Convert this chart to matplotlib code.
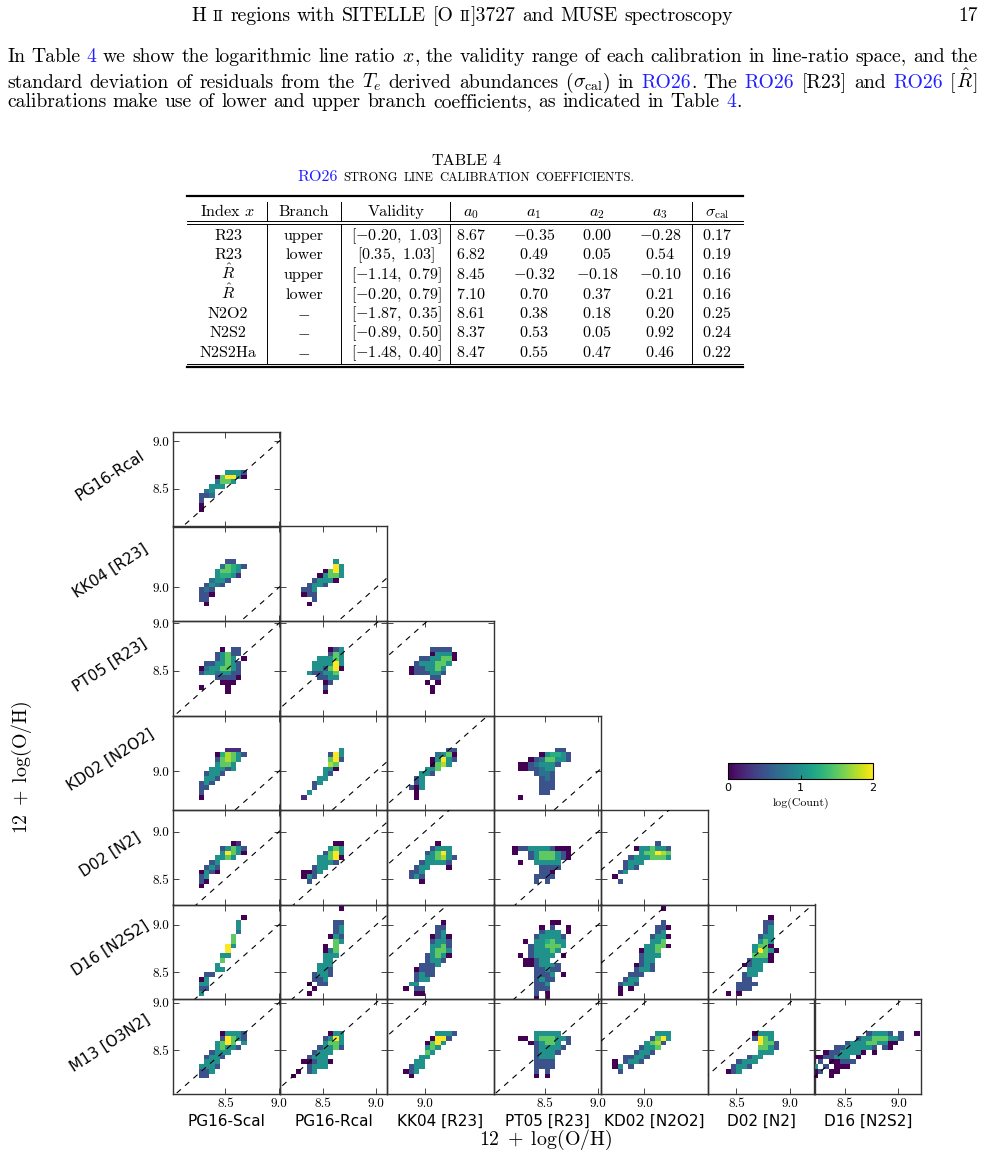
import re
import numpy as np
import matplotlib
matplotlib.use("Agg")
import matplotlib.pyplot as plt
from matplotlib.lines import Line2D
from matplotlib.cm import ScalarMappable
from matplotlib.colors import Normalize

plt.rcParams["mathtext.fontset"] = "cm"

# ---- page text ----
HEADER = "H <II> regions with SITELLE [O <II>]3727 and MUSE spectroscopy"
PAGE_NO = "17"
PARA = [
    "In Table {4} we show the logarithmic line ratio $x$, the validity range of each calibration in line-ratio space, and the",
    r"standard deviation of residuals from the $T_e$ derived abundances ($\sigma_{\mathrm{cal}}$) in {RO26}. The {RO26} [R23] and {RO26} [$\hat{R}$]",
    "calibrations make use of lower and upper branch coefficients, as indicated in Table {4}.",
]

# ---- table 4 ----
TAB_TITLE = "TABLE 4"
TAB_SUB = "{RO26} <strong> <line> <calibration> <coefficients.>"
TAB_HEAD = ["Index $x$", "Branch", "Validity", "$a_0$", "$a_1$", "$a_2$", "$a_3$", r"$\sigma_{\mathrm{cal}}$"]
TAB_INDEX = ["R23", "R23", r"$\hat{R}$", r"$\hat{R}$", "N2O2", "N2S2", "N2S2Ha"]
TAB_BRANCH = ["upper", "lower", "upper", "lower", "-", "-", "-"]
TAB_VALID = [(-0.20, 1.03), (0.35, 1.03), (-1.14, 0.79), (-0.20, 0.79), (-1.87, 0.35), (-0.89, 0.50), (-1.48, 0.40)]
TAB_A0 = [8.67, 6.82, 8.45, 7.10, 8.61, 8.37, 8.47]
TAB_A1 = [-0.35, 0.49, -0.32, 0.70, 0.38, 0.53, 0.55]
TAB_A2 = [0.00, 0.05, -0.18, 0.37, 0.18, 0.05, 0.47]
TAB_A3 = [-0.28, 0.54, -0.10, 0.21, 0.20, 0.92, 0.46]
TAB_SIG = [0.17, 0.19, 0.16, 0.16, 0.25, 0.24, 0.22]

# ---- corner plot ----
CALIBS = ["PG16-Scal", "PG16-Rcal", "KK04 [R23]", "PT05 [R23]", "KD02 [N2O2]", "D02 [N2]", "D16 [N2S2]", "M13 [O3N2]"]
AX_LIMS = [(8.01, 9.01), (8.10, 9.10), (8.645, 9.645), (8.025, 9.025), (8.59, 9.59), (8.23, 9.23), (8.215, 9.215), (8.04, 9.04)]
BIN = 0.05
# 2D histograms: (x of first column, y of top edge, rows top->bottom)
# digit d -> log(Count) = (d-1)/4, blank = empty bin
P_R1C1 = (8.25, 8.70, ["     5553", "   179951", "   4775", "  555", " 45", "334", "3", "1", "1"])
P_R2C1 = (8.25, 9.30, ["     33", "    47653", "   57765", "   56652", "  4553", " 3543", "343", "331", "33", " 1"])
P_R2C2 = (8.30, 9.30, ["      5", "      95", "    1795", "   15775", "  35551", " 3553", "335", "133", "  3", " 1"])
P_R3C1 = (8.25, 8.75, ["    1 33", "   35733", "   3575 1", " 3355753", "14557753", "35545533", "   33331", "    111", "1    1", "     1"])
P_R3C2 = (8.35, 8.75, ["    135", "    375", "  55575", " 555595", " 553791", "533557", "  3355", "   13", "   3", "   1"])
P_R3C3 = (8.85, 8.75, ["    3333", "    15551", "  3355771", " 3555775", "1335575", "1333553", "    33", "   1 1", "    1", "    1"])
P_R4C1 = (8.25, 9.25, ["     222", "   168753", "   37875", "   5775", "  55535", " 3553", " 553", "353", "33", "3", "1"])
P_R4C2 = (8.30, 9.25, ["       5", "     395", "     793", "     87", "    551", "    53", "   55", "  35", "  3", " 5", "2"])
P_R4C3 = (8.85, 9.25, ["       33", "     4571", "    15953", "    1785", "   557", "  553", " 35", " 35", "315", " 1", " 1"])
P_R4C4 = (8.25, 9.25, ["       33", "    156653", "  13477553", "11345553", "1133455", "   3443", "    343", "    333", "    333", "    33", "1"])
P_R5C1 = (8.25, 8.90, ["      12", "    35753", "    59751", "   5575", "  35", " 353", "1531", "35", "31", "1"])
P_R5C2 = (8.30, 8.90, ["      11", "     575", "    3795", "   55791", "   5553", "  355", "1135", "153", " 3"])
P_R5C3 = (8.85, 8.90, ["     1", "    3555", "   35795", "   557853", "  355553", " 355   1", "335", "353", "  1"])
P_R5C4 = (8.20, 8.85, ["13355553111", "1  35777531", "   35777531", " 1  55555", "     3333", "     331", "    3333", "    3 3"])
P_R5C5 = (8.70, 8.90, ["        3", "    1557553", "     577987", "   35557775", "  3555", "  353", " 35", "1", " 3"])
P_R6C1 = (8.25, 9.10, ["        1", "       5", "       5", "       4", "      7", "      7", "     95", "     9", "    55", "    7",
                       "   5", "   55", " 33", "15", "55", "33", "5"])
P_R6C2 = (8.35, 9.20, ["      1", "", "", "     33", "     35", "     35", "    153", "     75", "   1 7", "   147", "   555", "   55",
                       "  555", "  553", " 3553", " 335", "1 33", " 1", "1"])
P_R6C3 = (8.80, 9.05, ["       1", "      33", "      35", "     1351", "     3553", "     5573", "     5775", "    35751", "    3553",
                       "   3335", "  1333", "  3533", "  355", " 55", "1 33", "  11"])
P_R6C4 = (8.25, 9.05, ["      11", "    1 3  1", "    3555 1", "   355553", " 1 556755", "  3557775", "  355575", "1 35555 1",
                       " 11355", " 1135553", "   33533", "   3335 1", "   3533", "   335", "   333", "   3 1", "   1 1"])
P_R6C5 = (8.75, 9.20, ["        1", "", "", "        3", "       331", "       35", "      3551", "      557", "     55771", "    1557",
                       "    3555", "    355", "   1353", "   3553", "  333", " 355", "3553", "1 1", "1"])
P_R6C6 = (8.40, 9.10, ["        1", "       33", "       35", "       35", "      355", "      575", "     5771", "     59751", "     7771",
                       "    35551", "   1355", "    555", "   355", "   33", "  3333", "  333", "1 1"])
P_R7C1 = (8.25, 8.70, ["    15553", "    39753", "   5797 5", "   57553", "  3555", " 3553", " 555", "5553", "335", "33"])
P_R7C2 = (8.20, 8.70, ["       155", "      3595", "      5775", "     35573", "    3555", "   3555", "  113551", "   3555", " 1 35", "1"])
P_R7C3 = (8.80, 8.70, ["      5553", "     1993", "    1795", "    575", "    75", "   55", "  55", " 355", "135", " 1"])
P_R7C4 = (8.20, 8.70, ["    55555", " 11 5777553", "   135775 3", "    355553", "    35553", "    3555", "    3333", "    3333",
                       "    3 3", "    1 1"])
P_R7C5 = (8.70, 8.70, ["        555", "       3795", "      5783", "     3557", "    3553", "  33553", "1 3553", "15 3", " 3"])
P_R7C6 = (8.40, 8.70, ["     1555", "     3975", "      9773", "      7753", "      555", "    355", "  3555", " 3553", "135"])
P_R7C7 = (8.20, 8.70, ["          35553 3  1", "        355777553", "      3555775511", "    33555553 31", "  13355551 1",
                       "1133555 1", " 3 11333", "5 3 111", "13 11", "1  1"])

PANELS = [
    [P_R1C1],
    [P_R2C1, P_R2C2],
    [P_R3C1, P_R3C2, P_R3C3],
    [P_R4C1, P_R4C2, P_R4C3, P_R4C4],
    [P_R5C1, P_R5C2, P_R5C3, P_R5C4, P_R5C5],
    [P_R6C1, P_R6C2, P_R6C3, P_R6C4, P_R6C5, P_R6C6],
    [P_R7C1, P_R7C2, P_R7C3, P_R7C4, P_R7C5, P_R7C6, P_R7C7],
]

W, H = 985, 1176
BLUE = "#1f1fff"
TOKEN = re.compile(r"(\$[^$]*\$|\{[^}]*\}|<[^>]*>|[^{$<]+)")
OH_LABEL = r"$12\;+\;\log(\mathrm{O/H})$"


def fx(px):
    return px / W


def fy(py):
    return 1 - py / H


def grid_mesh(x0, ytop, rows):
    ncol = max(len(r) for r in rows)
    Z = np.full((len(rows), ncol), np.nan)
    for i, r in enumerate(rows):
        for j, ch in enumerate(r):
            if ch != " ":
                Z[i, j] = (int(ch) - 1) / 4
    xe = x0 + BIN * np.arange(ncol + 1)
    ye = ytop - BIN * np.arange(len(rows) + 1)
    return xe, ye, np.ma.masked_invalid(Z)


def main():
    fig = plt.figure(figsize=(W / 100, H / 100), dpi=100)
    R = fig.canvas.get_renderer()

    def width(s, size, family="cmr10"):
        t = fig.text(0, 0, s, fontsize=size, family=family)
        w = t.get_window_extent(renderer=R).width
        t.remove()
        return w

    def make_words(line, size):
        words = []
        for word in line.split(" "):
            pieces = []
            for tok in TOKEN.findall(word):
                if tok.startswith("{"):
                    pieces.append((tok[1:-1], size, BLUE))
                elif tok.startswith("<"):
                    pieces.append((tok[1:-1].upper(), size * 0.78, "k"))
                else:
                    pieces.append((tok, size, "k"))
            words.append(pieces)
        return words

    def line_width(line, size):
        ws = [sum(width(s, sz) for s, sz, c in w) for w in make_words(line, size)]
        sp = width("n n", size) - width("nn", size)
        return sum(ws) + sp * (len(ws) - 1)

    def draw_line(line, size, x0, y, x1=None, center=None):
        words = make_words(line, size)
        ws = [sum(width(s, sz) for s, sz, c in w) for w in words]
        sp = width("n n", size) - width("nn", size)
        if x1 is not None:
            sp = (x1 - x0 - sum(ws)) / (len(ws) - 1)
        if center is not None:
            x0 = center - (sum(ws) + sp * (len(ws) - 1)) / 2
        x = x0
        for w, wd in zip(words, ws):
            for s, sz, c in w:
                fig.text(fx(x), fy(y), s, fontsize=sz, color=c, family="cmr10", va="baseline", ha="left")
                x += width(s, sz)
            x += sp

    def hline(x0, x1, y, lw):
        fig.add_artist(Line2D([fx(x0), fx(x1)], [fy(y), fy(y)], color="k", lw=lw, transform=fig.transFigure))

    def vline(x, y0, y1, lw=0.7):
        fig.add_artist(Line2D([fx(x), fx(x)], [fy(y0), fy(y1)], color="k", lw=lw, transform=fig.transFigure))

    # header and paragraph
    hs = 10 * 543 / line_width(HEADER, 10)
    draw_line(HEADER, hs, 0, 21, center=462)
    fig.text(fx(978), fy(21), PAGE_NO, fontsize=hs, family="cmr10", ha="right", va="baseline")

    ps = 10 * 738 / line_width(PARA[2], 10)
    draw_line(PARA[0], ps, 7, 62, x1=978)
    draw_line(PARA[1], ps, 7, 88, x1=978)
    draw_line(PARA[2], ps, 7, 107)

    # table
    ts = 10 * 91 / width(r"$[-1.87,\ 0.35]$", 10)
    draw_line(TAB_TITLE, ts, 0, 165, center=466)
    draw_line(TAB_SUB, ts, 0, 181, center=466)
    hline(187, 743, 196, 1.6)
    hline(187, 743, 221, 0.7)
    hline(187, 743, 224, 0.7)
    hline(187, 743, 364, 0.7)
    hline(187, 743, 367, 1.6)
    for xv in [267, 341, 450, 692]:
        vline(xv, 202, 221)
        vline(xv, 224, 363)
    cols = [228, 304, 396, 471, 534, 597, 660, 717]
    for xc, s in zip(cols, TAB_HEAD):
        fig.text(fx(xc), fy(216), s, fontsize=ts, family="cmr10", ha="center", va="baseline")
    ybase = [240, 259, 279, 299, 318, 337, 357]
    for i, yb in enumerate(ybase):
        cells = [TAB_INDEX[i], TAB_BRANCH[i],
                 r"$[%.2f,\ %.2f]$" % TAB_VALID[i],
                 "$%.2f$" % TAB_A0[i], "$%.2f$" % TAB_A1[i], "$%.2f$" % TAB_A2[i],
                 "$%.2f$" % TAB_A3[i], "$%.2f$" % TAB_SIG[i]]
        for xc, s in zip(cols, cells):
            if s == "-":
                s = r"$\mathrm{-}$"
            fig.text(fx(xc), fy(yb), s, fontsize=ts, family="cmr10", ha="center", va="baseline")

    # corner plot of 2D histograms
    pw, ph = 107, 94.5
    cmap = plt.get_cmap("viridis")
    for r, row in enumerate(PANELS):
        for c, (x0, ytop, rows) in enumerate(row):
            left = 173 + 106.9 * c
            top = 432 + ph * r
            ax = fig.add_axes([fx(left), fy(top + ph), pw / W, ph / H])
            ax.patch.set_visible(False)
            xe, ye, Z = grid_mesh(x0, ytop, rows)
            ax.pcolormesh(xe, ye, Z, cmap=cmap, vmin=0, vmax=2)
            ax.plot([7.5, 10], [7.5, 10], color="k", ls=(0, (5, 5)), lw=0.8, zorder=3)
            ax.set_xticks([8.5, 9.0], labels=["8.5", "9.0"], fontfamily="cmr10", fontsize=9.5)
            ax.set_yticks([8.5, 9.0], labels=["8.5", "9.0"], fontfamily="cmr10", fontsize=9.5)
            ax.set_xlim(AX_LIMS[c])
            ax.set_ylim(AX_LIMS[r + 1])
            ax.tick_params(direction="in", top=True, right=True, length=4, width=0.7, color="#444444",
                           labelbottom=(r == 6), labelleft=(c == 0), pad=3)
            for sp in ax.spines.values():
                sp.set_linewidth(1.0)
                sp.set_color("#333333")
        fig.text(fx(110), fy(top + ph / 2 - 3), CALIBS[r + 1], rotation=33, ha="center", va="center",
                 fontsize=11, family="DejaVu Sans")

    for c in range(7):
        fig.text(fx(173 + 106.9 * c + pw / 2), fy(1121), CALIBS[c], ha="center", va="center",
                 fontsize=11, family="DejaVu Sans")

    ls = 10 * 134 / width(OH_LABEL, 10)
    fig.text(fx(546), fy(1140), OH_LABEL, fontsize=ls, ha="center", va="center")
    fig.text(fx(22), fy(767), OH_LABEL, fontsize=ls, ha="center", va="center", rotation=90)

    # colour bar
    cax = fig.add_axes([fx(728), fy(779), 145 / W, 16 / H])
    cb = fig.colorbar(ScalarMappable(norm=Normalize(0, 2), cmap=cmap), cax=cax, orientation="horizontal", ticks=[0, 1, 2])
    cax.tick_params(direction="in", labelsize=8, length=3, width=0.6, pad=3)
    cb.outline.set_linewidth(0.8)
    cax.set_xlabel("log(Count)", fontfamily="cmr10", fontsize=8.5, labelpad=3)

    fig.savefig("out.png", dpi=100)


if __name__ == "__main__":
    main()
